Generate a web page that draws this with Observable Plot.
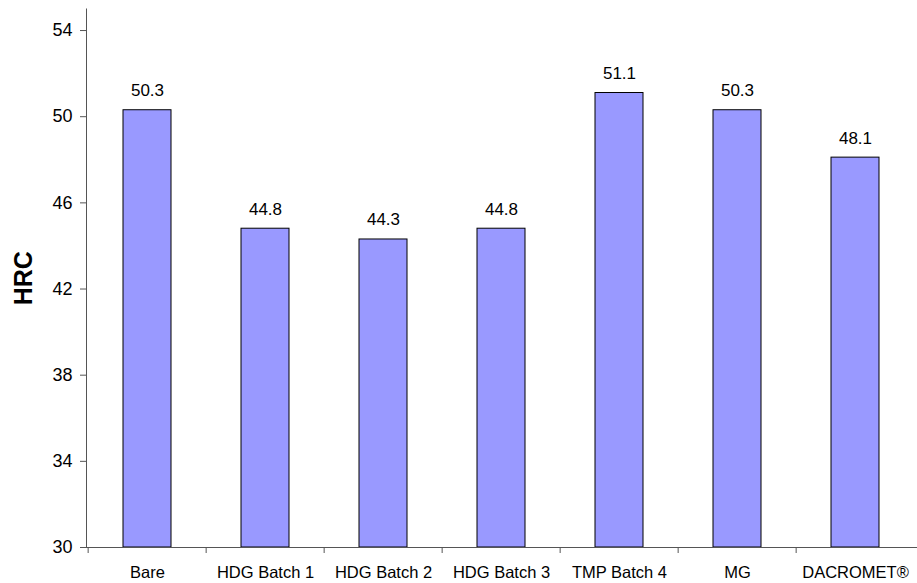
<!DOCTYPE html>
<html>
<head>
<meta charset="utf-8">
<script src="https://cdn.jsdelivr.net/npm/d3@7"></script>
<script src="https://cdn.jsdelivr.net/npm/@observablehq/plot@0.6"></script>
<style>
  html, body { margin: 0; padding: 0; background: #fff; }
  #chart svg { display: block; }
</style>
</head>
<body>
<div id="chart"></div>
<script>
const categories = ["Bare", "HDG Batch 1", "HDG Batch 2", "HDG Batch 3", "TMP Batch 4", "MG", "DACROMET®"];
const hrcValues = [50.3, 44.8, 44.3, 44.8, 51.1, 50.3, 48.1];
const yTicks = [30, 34, 38, 42, 46, 50, 54];

const data = categories.map((c, i) => ({category: c, hrc: hrcValues[i]}));

const width = 917, height = 583;
const marginLeft = 86, marginRight = 0, marginTop = 8.5, marginBottom = 36;
const step = (width - marginLeft - marginRight) / categories.length;
const font = "Liberation Sans, Arial, Helvetica, sans-serif";
const axisColor = "#555";

const chart = Plot.plot({
  width, height, marginLeft, marginRight, marginTop, marginBottom,
  style: {fontFamily: font, background: "#fff", color: "#000"},
  x: {domain: categories, paddingInner: 0.59, paddingOuter: 0.295, align: 0.5},
  y: {domain: [30, 55]},
  marks: [
    Plot.barY(data, {x: "category", y1: 30, y2: "hrc", fill: "#9999FF", stroke: "#000", strokeWidth: 1}),
    Plot.text(data, {x: "category", y: "hrc", text: d => d.hrc.toFixed(1), dy: -19.5, fontSize: 17, fill: "#000"}),
    Plot.frame({anchor: "left", stroke: axisColor}),
    Plot.frame({anchor: "bottom", stroke: axisColor}),
    Plot.axisY({ticks: yTicks, tickSize: 6, tickPadding: 8, fontSize: 18, stroke: axisColor, fill: "#000",
      label: "HRC", labelAnchor: "center", labelArrow: "none", labelOffset: 72}),
    Plot.axisX({text: null, tickSize: 6, dx: -step / 2, stroke: axisColor, label: null}),
    Plot.axisX({tickSize: 0, tickPadding: 19, fontSize: 16.5, fill: "#000", label: null})
  ]
});

document.getElementById("chart").appendChild(chart);
// style the y-axis title bold and larger
chart.querySelectorAll('[aria-label="y-axis label"]').forEach(g => {
  g.setAttribute("font-weight", "bold");
  g.setAttribute("font-size", "25");
});
</script>
</body>
</html>
